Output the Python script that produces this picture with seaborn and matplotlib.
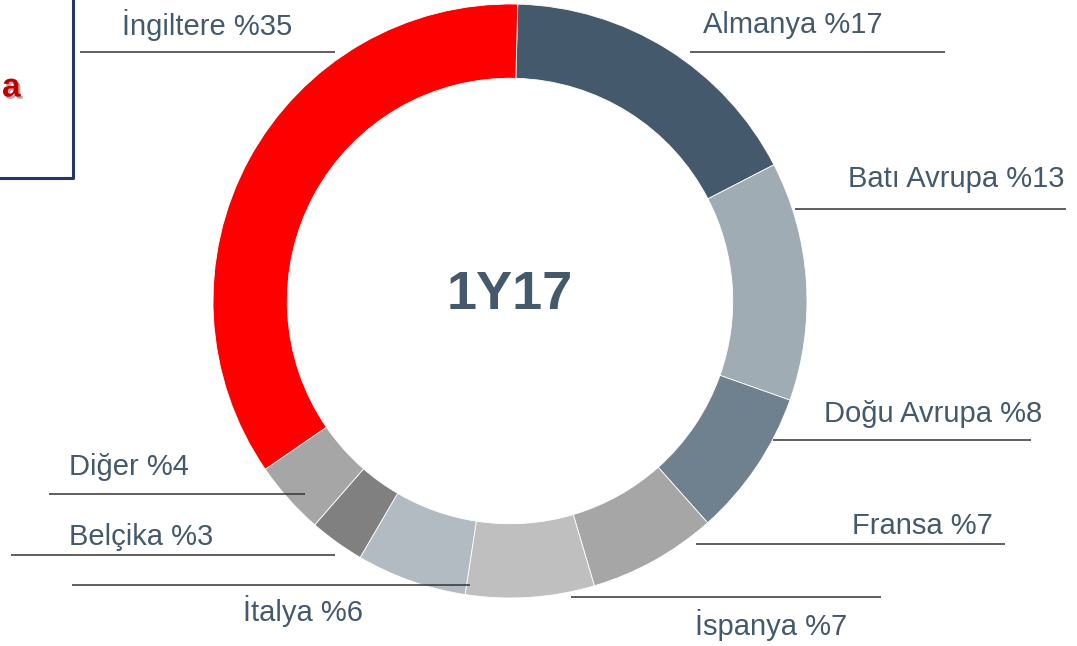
import matplotlib
matplotlib.use("Agg")
import matplotlib.pyplot as plt
import matplotlib.patheffects as pe
import seaborn as sns

# ---- data ----
countries = ["Almanya", "Batı Avrupa", "Doğu Avrupa", "Fransa", "İspanya",
             "İtalya", "Belçika", "Diğer", "İngiltere"]
shares = [17, 13, 8, 7, 7, 6, 3, 4, 35]
colors = ["#44596B", "#A0ACB4", "#6F818E", "#A6A6A6", "#BFBFBF",
          "#B2BAC2", "#808080", "#A6A6A6", "#FF0000"]
center_label = "1Y17"

sns.set_theme(style="white")
plt.rcParams['font.family'] = ['Liberation Sans', 'DejaVu Sans']

W, H = 1077, 646
fig = plt.figure(figsize=(W / 100, H / 100), dpi=100)
ax = fig.add_axes([0, 0, 1, 1])

def Y(y):
    return H - y

cx, cy, R = 510, 301, 297
ax.pie(shares, colors=colors, startangle=88.5, counterclock=False,
       center=(cx, Y(cy)), radius=R, frame=True,
       wedgeprops=dict(width=R * 0.25, linewidth=0.6, edgecolor="white"))

ax.text(cx, Y(cy - 6), center_label, ha="center", va="center",
        fontsize=39, fontweight="bold", color="#44596B")

# label layout: (text x, text center y, ha, line x0, line x1, line y)
layout = {
    "İngiltere":   (122, 25, "left", 80, 335, 52),
    "Almanya":     (703, 25, "left", 690, 945, 52),
    "Batı Avrupa": (1064, 179, "right", 795, 1066, 209),
    "Doğu Avrupa": (1042, 414, "right", 773, 1031, 440),
    "Fransa":      (993, 526, "right", 696, 1005, 544),
    "İspanya":     (695, 625, "left", 571, 881, 597),
    "İtalya":      (243, 611, "left", 72, 470, 585),
    "Belçika":     (69, 537, "left", 11, 335, 555),
    "Diğer":       (69, 467, "left", 49, 305, 494),
}
for name, val in zip(countries, shares):
    tx, ty, ha, x0, x1, ly = layout[name]
    ax.text(tx, Y(ty), f"{name} %{val}", ha=ha, va="center",
            fontsize=21, color="#44596B")
    ax.plot([x0, x1], [Y(ly), Y(ly)], color="#333333", lw=1.1,
            solid_capstyle="butt")

# partial box at top-left
ax.plot([-5, 73, 73], [Y(178), Y(178), Y(-5)], color="#1F3864", lw=2.2)
ax.text(2, Y(88), "a", ha="left", va="center", fontsize=24,
        fontweight="bold", color="#C00000",
        path_effects=[pe.withSimplePatchShadow(offset=(1.5, -1.5),
                                               alpha=0.35)])

ax.set_xlim(0, W)
ax.set_ylim(0, H)
ax.set_aspect("auto")
ax.axis("off")
fig.savefig("out.png", dpi=100)
